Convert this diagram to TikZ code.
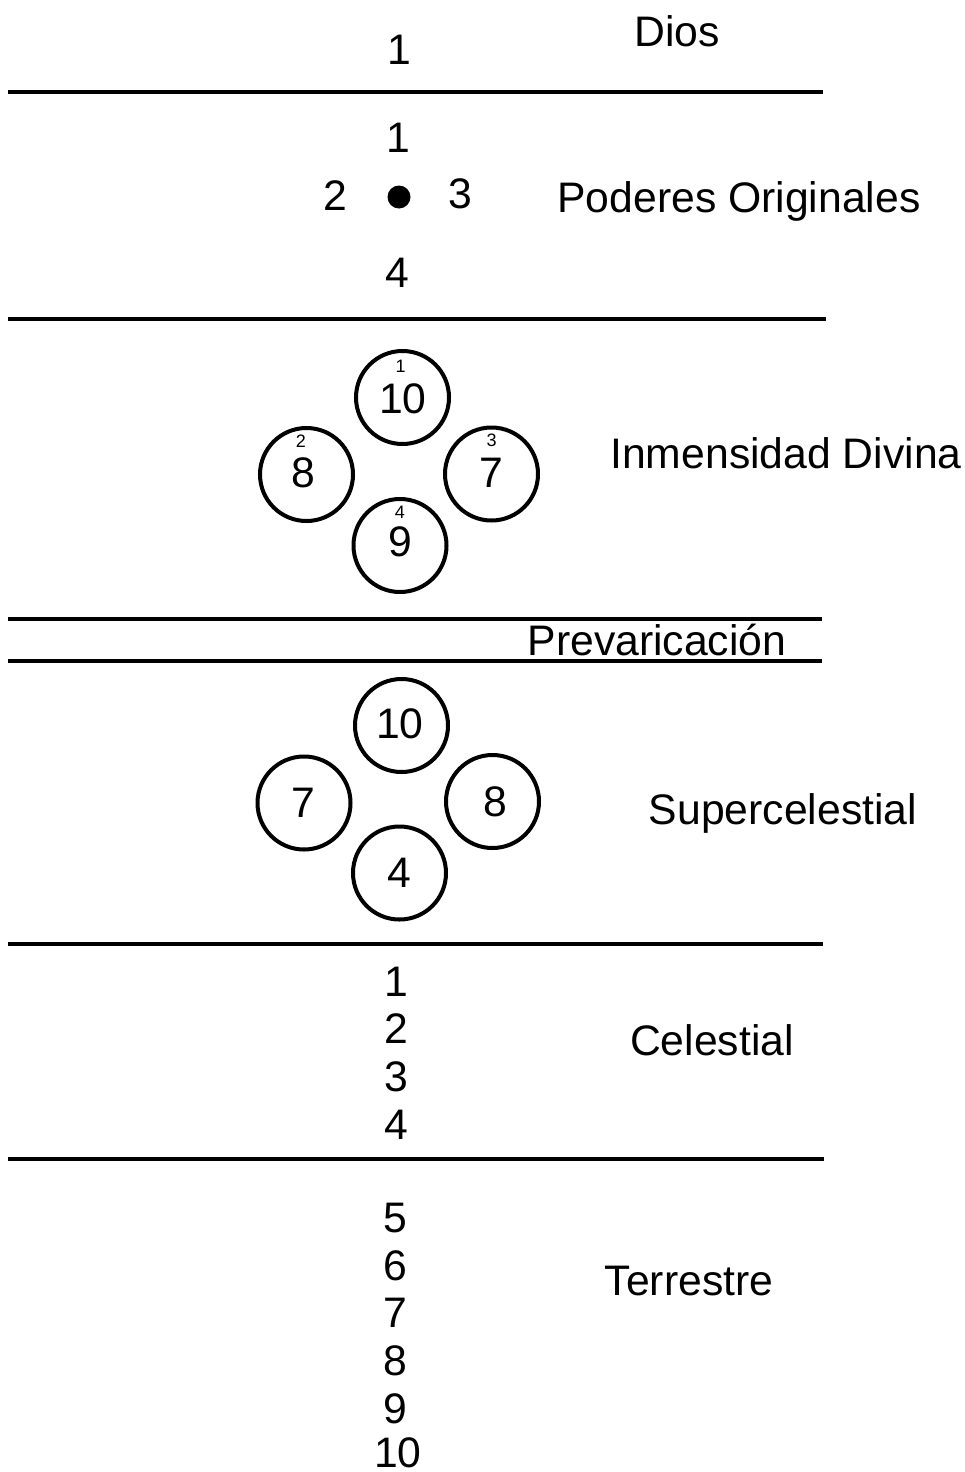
\documentclass[tikz,border=0pt]{standalone}
\usepackage{fontspec}
\setmainfont{Liberation Sans}
\begin{document}
\begin{tikzpicture}[x=1pt,y=-1pt,
  txt/.style={inner sep=0pt,anchor=base,font=\fontsize{42.7}{50}\selectfont},
  num/.style={inner sep=0pt,font=\fontsize{42.7}{50}\selectfont},
  small/.style={inner sep=0pt,font=\fontsize{18}{20}\selectfont},
  ring/.style={circle,draw,line width=4pt,minimum size=93pt,inner sep=0pt,font=\fontsize{42.7}{50}\selectfont},
  rule/.style={line width=4pt}]
\useasboundingbox (0,0) rectangle (965,1472);
% separator lines
\draw[rule] (8,92) -- (823,92);
\draw[rule] (8,319) -- (826,319);
\draw[rule] (8,619) -- (822,619);
\draw[rule] (8,661) -- (822,661);
\draw[rule] (8,944) -- (823,944);
\draw[rule] (8,1159) -- (824,1159);
% Dios
\node[txt] (d1) at (399,65) {1};
\node[txt] (dios) at (677,47) {Dios};
% Poderes originales
\node[txt] (p1) at (398,152) {1};
\node[txt] (p2) at (335,210) {2};
\node[txt] (p3) at (460,208) {3};
\node[txt] (p4) at (397,287) {4};
\fill (399,197) circle (11.5);
\node[txt] (pod) at (739,212) {Poderes Originales};
% Inmensidad Divina
\node[ring] (a1) at (402.5,397.5) {};
\node[ring] (a2) at (306.5,474.5) {};
\node[ring] (a3) at (491.5,474) {};
\node[ring] (a4) at (400,545.5) {};
\node[num] (a1n) at (403,399) {10};
\node[num] (a2n) at (303,473) {8};
\node[num] (a3n) at (491.7,473) {7};
\node[num] (a4n) at (400,542) {9};
\node[small] (a1s) at (400.7,366.7) {1};
\node[small] (a2s) at (301,441.7) {2};
\node[small] (a3s) at (491.7,440) {3};
\node[small] (a4s) at (400,512.7) {4};
\node[txt] (inm) at (786,468) {Inmensidad Divina};
% Prevaricacion
\node[txt] (prev) at (657,655) {Prevaricación};
% Supercelestial
\node[ring] (b1) at (401.5,725.5) {};
\node[ring] (b2) at (304,803) {};
\node[ring] (b3) at (492.5,801.5) {};
\node[ring] (b4) at (399.5,873) {};
\node[num] (b1n) at (400,724) {10};
\node[num] (b2n) at (303,803) {7};
\node[num] (b3n) at (495,802) {8};
\node[num] (b4n) at (399,873) {4};
\node[txt] (sup) at (783,824) {Supercelestial};
% Celestial
\node[txt] (c1) at (396,996) {1};
\node[txt] (c2) at (396,1043) {2};
\node[txt] (c3) at (396,1091) {3};
\node[txt] (c4) at (396,1139) {4};
\node[txt] (cel) at (712,1055) {Celestial};
% Terrestre
\node[txt] (t5) at (395,1232) {5};
\node[txt] (t6) at (395,1280) {6};
\node[txt] (t7) at (395,1327) {7};
\node[txt] (t8) at (395,1375) {8};
\node[txt] (t9) at (395,1423) {9};
\node[txt] (t10) at (398,1467) {10};
\node[txt] (ter) at (689,1295) {Terrestre};
\end{tikzpicture}
\end{document}
